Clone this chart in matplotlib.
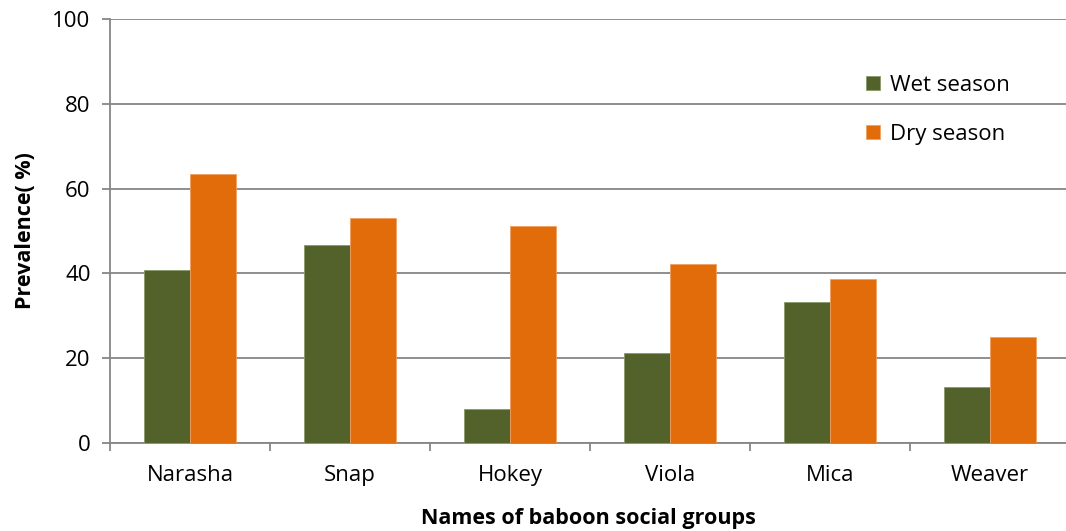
import matplotlib.pyplot as plt
import numpy as np

GREEN = "#52622A"
ORANGE = "#E36C0A"
GRID_GRAY = "#868686"

groups = ["Narasha", "Snap", "Hokey", "Viola", "Mica", "Weaver"]
wet_season = [40.9, 46.6, 8.0, 21.2, 33.2, 13.2]
dry_season = [63.4, 53.1, 51.2, 42.3, 38.7, 24.9]
y_ticks = [0, 20, 40, 60, 80, 100]

plt.rcParams["font.family"] = ["Open Sans", "DejaVu Sans"]

fig = plt.figure(figsize=(10.66, 5.31), dpi=100, facecolor="white")
ax = fig.add_axes([110 / 1066, 1 - 443 / 531, 956 / 1066, 424 / 531])

x = np.arange(len(groups))
bar_w = 0.286

ax.bar(x - bar_w / 2, wet_season, width=bar_w, color=GREEN,
       edgecolor="#8a9a6a", linewidth=0.6, label="Wet season", zorder=3)
ax.bar(x + bar_w / 2, dry_season, width=bar_w, color=ORANGE,
       edgecolor="#f0a060", linewidth=0.6, label="Dry season", zorder=3)

ax.set_ylim(0, 100)
ax.set_xlim(-0.5, 956 / 160 - 0.5)
ax.set_yticks(y_ticks)
ax.set_yticklabels([str(v) for v in y_ticks], fontsize=16)

# category labels centred, tick marks between groups
ax.set_xticks(x)
ax.set_xticklabels(groups, fontsize=16)
ax.tick_params(axis="x", length=0, pad=16)
ax.set_xticks(np.arange(len(groups)) - 0.5, minor=True)
ax.tick_params(axis="x", which="minor", length=6, width=1.3, color=GRID_GRAY,
               direction="out")
ax.tick_params(axis="y", length=6, width=1.3, color=GRID_GRAY,
               direction="out", pad=8)

ax.yaxis.grid(True, color=GRID_GRAY, linewidth=1.3, zorder=0)
ax.set_axisbelow(True)

for side in ["top", "right"]:
    ax.spines[side].set_visible(False)
for side in ["left", "bottom"]:
    ax.spines[side].set_color(GRID_GRAY)
    ax.spines[side].set_linewidth(1.3)

ax.set_ylabel("Prevalence( %)", fontsize=15.5, fontweight="bold", labelpad=12)
ax.set_xlabel("Names of baboon social groups", fontsize=15.5,
              fontweight="bold", labelpad=16)

ax.legend(loc="upper left", bbox_to_anchor=(0.775, 0.905), frameon=False,
          fontsize=16, handlelength=0.6, handleheight=0.6,
          handletextpad=0.45, labelspacing=1.25, borderaxespad=0.3)

plt.savefig("out.png", dpi=100, facecolor=fig.get_facecolor())
plt.close(fig)
